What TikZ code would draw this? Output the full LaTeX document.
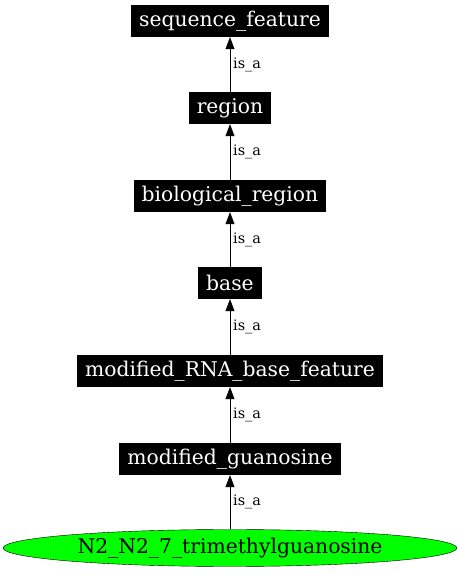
\documentclass[tikz,border=0pt]{standalone}
\usepackage{fontspec}
\setmainfont{DejaVu Serif}
\usepackage{tikz}
\usetikzlibrary{shapes.geometric,arrows.meta,positioning}

\begin{document}
\begin{tikzpicture}[
    x=1pt, y=1pt,
    term/.style={rectangle, fill=black, text=white, minimum height=32pt, inner xsep=8pt, font=\fontsize{20.3}{24}\selectfont},
    leaf/.style={ellipse, draw=black, fill=green, minimum width=454pt, minimum height=37pt, inner sep=0pt, font=\fontsize{20.3}{24}\selectfont},
    isa/.style={-{Triangle[length=12pt,width=9pt]}, black},
    lbl/.style={font=\fontsize{14.4}{17}\selectfont, inner sep=3pt}
]

% Frame
\useasboundingbox (0,0) rectangle (460,576);

% Terms
\node[term] (seqfeat) at (230, 555) {sequence\_feature};
\node[term] (region) at (230, 468) {region};
\node[term] (bioregion) at (230, 380) {biological\_region};
\node[term] (base) at (230, 293) {base};
\node[term] (modrna) at (230, 205) {modified\_RNA\_base\_feature};
\node[term] (modguan) at (230, 117) {modified\_guanosine};

% Leaf term
\node[leaf] (trimeth) at (230, 28) {N2\_N2\_7\_trimethylguanosine};

% is_a edges
\draw[isa] (region) -- (seqfeat) node[midway, right, lbl] {is\_a};
\draw[isa] (bioregion) -- (region) node[midway, right, lbl] {is\_a};
\draw[isa] (base) -- (bioregion) node[midway, right, lbl] {is\_a};
\draw[isa] (modrna) -- (base) node[midway, right, lbl] {is\_a};
\draw[isa] (modguan) -- (modrna) node[midway, right, lbl] {is\_a};
\draw[isa] (trimeth) -- (modguan) node[midway, right, lbl] {is\_a};

\end{tikzpicture}
\end{document}
